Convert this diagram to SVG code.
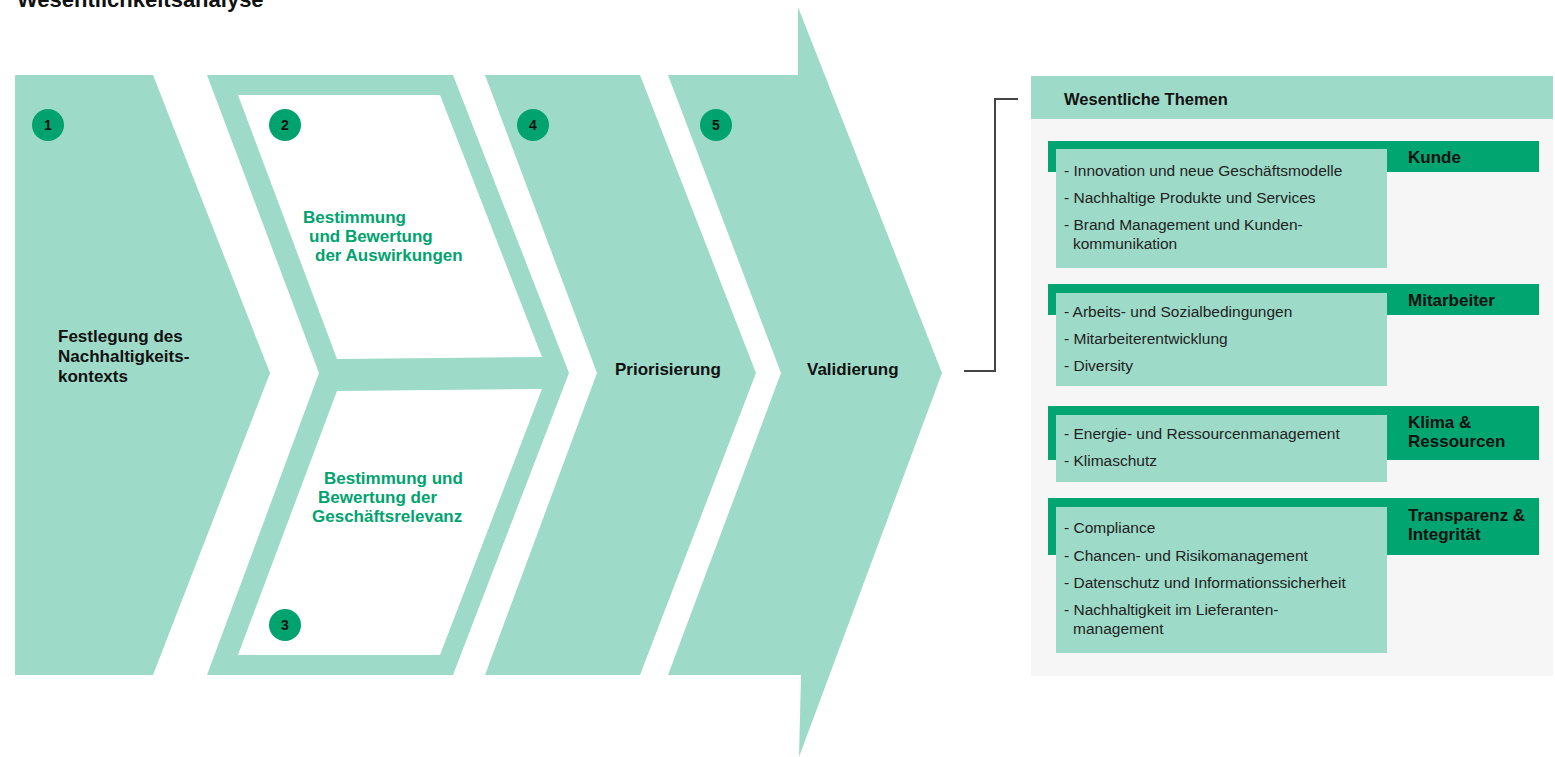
<svg xmlns="http://www.w3.org/2000/svg" width="1555" height="757" viewBox="0 0 1555 757">
<style>
.mint{fill:#9ddbc8}
.dark{fill:#00a570}
.white{fill:#ffffff}
.panel{fill:#f6f6f6}
.num{fill:#00a36e}
.numt{font-family:"Liberation Sans",Arial,sans-serif;font-weight:bold;font-size:14px;fill:#111;text-anchor:middle}
.lbl{font-family:"Liberation Sans",Arial,sans-serif;font-weight:bold;font-size:17px;fill:#111}
.glbl{font-family:"Liberation Sans",Arial,sans-serif;font-weight:bold;font-size:17px;fill:#00a36e}
.item{font-family:"Liberation Sans",Arial,sans-serif;font-size:15.5px;fill:#222}
.title{font-family:"Liberation Sans",Arial,sans-serif;font-weight:bold;font-size:22px;fill:#111}
.conn{fill:none;stroke:#444;stroke-width:2}
</style>
<text class="title" x="17" y="7">Wesentlichkeitsanalyse</text>

<g id="step1">
<polygon class="mint" points="15,75 153,75 270,373 153,675 15,675"/>
<circle class="num" cx="48" cy="125" r="16"/>
<text class="numt" x="48" y="130">1</text>
<text class="lbl" x="58" y="342">Festlegung des</text>
<text class="lbl" x="58" y="362">Nachhaltigkeits-</text>
<text class="lbl" x="58" y="382">kontexts</text>
</g>

<g id="step2-3">
<polygon class="mint" points="207,75 453,75 569,373 453,675 207,675 319,373"/>
<g id="step2">
<polygon class="white" points="238,95 440,95 542,357 337,359"/>
<circle class="num" cx="285" cy="125" r="16"/>
<text class="numt" x="285" y="130">2</text>
<text class="glbl" x="303" y="223">Bestimmung</text>
<text class="glbl" x="309" y="242">und Bewertung</text>
<text class="glbl" x="315" y="261">der Auswirkungen</text>
</g>
<g id="step3">
<polygon class="white" points="337,391 542,389 440,655 238,655"/>
<circle class="num" cx="285" cy="625" r="16"/>
<text class="numt" x="285" y="630">3</text>
<text class="glbl" x="324" y="484">Bestimmung und</text>
<text class="glbl" x="318" y="503">Bewertung der</text>
<text class="glbl" x="312" y="522">Geschäftsrelevanz</text>
</g>
</g>

<g id="step4">
<polygon class="mint" points="485,75 640,75 756,373 640,675 485,675 597,373"/>
<circle class="num" cx="533" cy="125" r="16"/>
<text class="numt" x="533" y="130">4</text>
<text class="lbl" x="615" y="375">Priorisierung</text>
</g>

<g id="step5">
<polygon class="mint" points="668,75 798,75 798,7 942,373 799,757 801,675 668,675 781,373"/>
<circle class="num" cx="716" cy="125" r="16"/>
<text class="numt" x="716" y="130">5</text>
<text class="lbl" x="807" y="375">Validierung</text>
</g>

<g id="connectors">
<polyline class="conn" points="964,371 995,371 995,99 1018,99"/>
</g>

<g id="themen">
<rect class="panel" x="1031" y="118" width="522" height="558"/>
<rect class="mint" x="1031" y="76" width="522" height="43"/>
<text class="lbl" x="1064" y="105" style="font-size:16.5px">Wesentliche Themen</text>
</g>

<g id="kunde">
<rect class="dark" x="1048" y="141" width="491" height="31"/>
<rect class="mint" x="1056" y="149" width="331" height="119"/>
<text class="lbl" x="1408" y="163">Kunde</text>
<text class="item" x="1064" y="176">- Innovation und neue Geschäftsmodelle</text>
<text class="item" x="1064" y="203">- Nachhaltige Produkte und Services</text>
<text class="item" x="1064" y="230">- Brand Management und Kunden-</text>
<text class="item" x="1073" y="249">kommunikation</text>
</g>

<g id="mitarbeiter">
<rect class="dark" x="1048" y="284" width="491" height="31"/>
<rect class="mint" x="1056" y="293" width="331" height="93"/>
<text class="lbl" x="1408" y="306">Mitarbeiter</text>
<text class="item" x="1064" y="317">- Arbeits- und Sozialbedingungen</text>
<text class="item" x="1064" y="344">- Mitarbeiterentwicklung</text>
<text class="item" x="1064" y="371">- Diversity</text>
</g>

<g id="klima">
<rect class="dark" x="1048" y="406" width="491" height="54"/>
<rect class="mint" x="1056" y="415" width="331" height="67"/>
<text class="lbl" x="1408" y="428">Klima &amp;</text>
<text class="lbl" x="1408" y="447">Ressourcen</text>
<text class="item" x="1064" y="439">- Energie- und Ressourcenmanagement</text>
<text class="item" x="1064" y="466">- Klimaschutz</text>
</g>

<g id="transparenz">
<rect class="dark" x="1048" y="498" width="491" height="57"/>
<rect class="mint" x="1056" y="507" width="331" height="146"/>
<text class="lbl" x="1408" y="521">Transparenz &amp;</text>
<text class="lbl" x="1408" y="540">Integrität</text>
<text class="item" x="1064" y="533">- Compliance</text>
<text class="item" x="1064" y="561">- Chancen- und Risikomanagement</text>
<text class="item" x="1064" y="588">- Datenschutz und Informationssicherheit</text>
<text class="item" x="1064" y="615">- Nachhaltigkeit im Lieferanten-</text>
<text class="item" x="1073" y="634">management</text>
</g>
</svg>
